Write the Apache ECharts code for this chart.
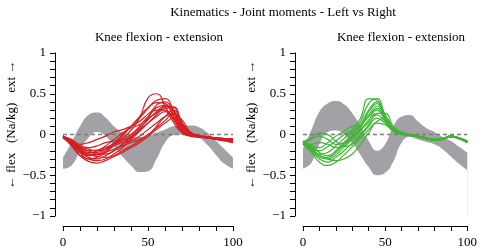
<!DOCTYPE html>
<html>
<head>
<meta charset="utf-8">
<script src="https://cdn.jsdelivr.net/npm/echarts@6/dist/echarts.min.js"></script>
<style>
  html, body { margin: 0; padding: 0; background: #fff; }
  #chart { width: 480px; height: 252px; }
</style>
</head>
<body>
<div id="chart"></div>
<script>
// % of gait cycle
const pct = [0, 5, 10, 15, 20, 25, 30, 35, 40, 45, 50, 55, 60, 65, 70, 75, 80, 85, 90, 95, 100];
const zeroLine = [[0, 0], [100, 0]];

// normative band, left side
const leftBandLow = [-0.42, -0.38, -0.2, -0.04, 0.03, -0.02, -0.14, -0.27, -0.38, -0.46, -0.45, -0.3, -0.1, -0.01, 0.0, -0.01, -0.04, -0.13, -0.25, -0.36, -0.42];
const leftBandHigh = [-0.28, -0.1, 0.1, 0.24, 0.27, 0.21, 0.1, 0.02, -0.02, -0.03, -0.02, 0.02, 0.06, 0.1, 0.11, 0.11, 0.09, 0.02, -0.08, -0.18, -0.28];

// normative band, right side
const rightBandLow = [-0.42, -0.35, -0.12, 0.03, 0.05, 0.0, -0.1, -0.25, -0.4, -0.5, -0.47, -0.33, -0.1, -0.03, -0.06, -0.09, -0.12, -0.18, -0.27, -0.36, -0.44];
const rightBandHigh = [-0.17, 0.05, 0.28, 0.38, 0.41, 0.37, 0.26, 0.1, -0.08, -0.2, -0.12, 0.1, 0.22, 0.24, 0.16, 0.08, 0.03, -0.03, -0.08, -0.15, -0.22];

// left trials
const leftTrials = [
  [-0.03, -0.08, -0.15, -0.18, -0.2, -0.18, -0.12, -0.05, 0.05, 0.2, 0.45, 0.5, 0.35, 0.15, 0.02, -0.02, -0.03, -0.04, -0.05, -0.05, -0.06],
  [-0.02, -0.1, -0.2, -0.25, -0.24, -0.2, -0.12, -0.02, 0.1, 0.22, 0.33, 0.39, 0.38, 0.25, 0.05, -0.01, -0.03, -0.04, -0.05, -0.06, -0.07],
  [-0.04, -0.12, -0.22, -0.28, -0.3, -0.26, -0.2, -0.12, -0.02, 0.08, 0.18, 0.28, 0.35, 0.3, 0.1, 0.0, -0.02, -0.03, -0.04, -0.05, -0.06],
  [-0.03, -0.14, -0.26, -0.33, -0.35, -0.32, -0.27, -0.22, -0.16, -0.1, -0.02, 0.1, 0.22, 0.3, 0.15, 0.02, -0.02, -0.04, -0.06, -0.08, -0.1],
  [-0.02, -0.09, -0.17, -0.2, -0.19, -0.16, -0.12, -0.08, -0.03, 0.05, 0.14, 0.22, 0.28, 0.2, 0.04, -0.01, -0.02, -0.03, -0.04, -0.05, -0.06],
  [-0.03, -0.06, -0.12, -0.1, -0.06, -0.02, 0.03, 0.06, 0.1, 0.16, 0.25, 0.33, 0.36, 0.22, 0.05, -0.01, -0.03, -0.04, -0.05, -0.06, -0.07],
  [-0.04, -0.11, -0.2, -0.24, -0.27, -0.28, -0.26, -0.2, -0.14, -0.08, -0.02, 0.06, 0.14, 0.2, 0.12, 0.02, -0.02, -0.04, -0.06, -0.07, -0.08],
  [-0.02, -0.08, -0.18, -0.22, -0.22, -0.18, -0.1, 0.0, 0.1, 0.2, 0.32, 0.42, 0.44, 0.3, 0.08, 0.0, -0.02, -0.03, -0.04, -0.05, -0.07],
  [-0.03, -0.13, -0.25, -0.3, -0.32, -0.3, -0.24, -0.16, -0.06, 0.04, 0.14, 0.24, 0.32, 0.33, 0.14, 0.01, -0.02, -0.03, -0.05, -0.06, -0.08],
  [-0.02, -0.07, -0.14, -0.16, -0.14, -0.1, -0.08, -0.06, 0.0, 0.1, 0.22, 0.3, 0.3, 0.18, 0.03, -0.02, -0.03, -0.04, -0.05, -0.05, -0.05],
  [-0.04, -0.12, -0.21, -0.26, -0.25, -0.22, -0.18, -0.14, -0.1, -0.06, 0.0, 0.08, 0.17, 0.25, 0.18, 0.03, -0.01, -0.03, -0.05, -0.07, -0.09],
  [-0.03, -0.1, -0.18, -0.23, -0.2, -0.14, -0.06, 0.02, 0.08, 0.12, 0.2, 0.26, 0.34, 0.34, 0.12, 0.0, -0.03, -0.04, -0.05, -0.06, -0.08],
  [-0.03, -0.1, -0.16, -0.2, -0.24, -0.24, -0.2, -0.12, -0.04, 0.06, 0.2, 0.36, 0.4, 0.28, 0.07, -0.01, -0.03, -0.04, -0.06, -0.07, -0.08],
  [-0.02, -0.09, -0.22, -0.3, -0.28, -0.22, -0.14, -0.1, -0.08, -0.02, 0.06, 0.14, 0.22, 0.26, 0.1, 0.0, -0.02, -0.04, -0.05, -0.06, -0.07]
];

// right trials
const rightTrials = [
  [-0.1, -0.15, -0.2, -0.15, -0.08, 0.0, 0.06, 0.2, 0.44, 0.42, 0.2, 0.06, 0.02, 0.0, -0.02, -0.04, -0.06, -0.05, -0.02, -0.04, -0.08],
  [-0.08, -0.18, -0.28, -0.3, -0.25, -0.15, -0.02, 0.12, 0.3, 0.4, 0.24, 0.08, 0.02, 0.0, -0.02, -0.05, -0.07, -0.05, -0.03, -0.05, -0.1],
  [-0.1, -0.06, -0.02, -0.06, -0.12, -0.1, -0.02, 0.06, 0.18, 0.3, 0.18, 0.05, 0.01, -0.01, -0.03, -0.05, -0.07, -0.06, -0.03, -0.05, -0.09],
  [-0.12, -0.22, -0.34, -0.38, -0.34, -0.25, -0.15, -0.05, 0.06, 0.16, 0.2, 0.08, 0.02, 0.0, -0.02, -0.05, -0.07, -0.05, -0.02, -0.05, -0.09],
  [-0.09, -0.16, -0.24, -0.22, -0.14, -0.05, 0.04, 0.1, 0.24, 0.35, 0.22, 0.07, 0.02, 0.0, -0.02, -0.04, -0.06, -0.05, -0.02, -0.04, -0.08],
  [-0.11, -0.18, -0.25, -0.3, -0.32, -0.3, -0.24, -0.12, 0.02, 0.14, 0.12, 0.04, 0.0, -0.01, -0.03, -0.05, -0.07, -0.06, -0.03, -0.05, -0.1],
  [-0.1, -0.12, -0.1, -0.12, -0.16, -0.14, -0.06, 0.05, 0.15, 0.24, 0.16, 0.05, 0.01, -0.01, -0.02, -0.04, -0.06, -0.05, -0.02, -0.04, -0.08],
  [-0.08, -0.14, -0.22, -0.26, -0.2, -0.1, 0.02, 0.16, 0.38, 0.44, 0.24, 0.07, 0.02, 0.0, -0.02, -0.05, -0.07, -0.05, -0.02, -0.05, -0.09],
  [-0.12, -0.2, -0.3, -0.34, -0.28, -0.2, -0.1, 0.0, 0.12, 0.26, 0.26, 0.1, 0.03, 0.0, -0.02, -0.05, -0.07, -0.06, -0.03, -0.05, -0.1],
  [-0.09, -0.04, 0.02, 0.0, -0.08, -0.15, -0.12, -0.02, 0.1, 0.2, 0.14, 0.04, 0.0, -0.01, -0.03, -0.05, -0.07, -0.06, -0.03, -0.05, -0.09],
  [-0.1, -0.17, -0.26, -0.28, -0.22, -0.12, -0.04, 0.08, 0.28, 0.38, 0.22, 0.06, 0.02, 0.0, -0.02, -0.04, -0.06, -0.05, -0.02, -0.04, -0.08],
  [-0.09, -0.14, -0.16, -0.1, -0.02, 0.04, 0.1, 0.12, 0.22, 0.32, 0.2, 0.06, 0.02, 0.0, -0.02, -0.05, -0.07, -0.05, -0.02, -0.05, -0.09]
];

const FONT = "Liberation Serif";
const fmtMinus = (v) => String(v).replace("-", "\u2212");

function panelSeries(idx, low, high, trials, color) {
  // band = gray area down to the axis start, then white area under the lower edge
  const list = [
    {
      type: "line",
      xAxisIndex: idx,
      yAxisIndex: idx,
      data: pct.map((x, i) => [x, high[i]]),
      smooth: true,
      symbol: "none",
      lineStyle: { width: 0, opacity: 0 },
      areaStyle: { color: "#a2a2a6", opacity: 1, origin: "start" },
      silent: true,
    },
    {
      type: "line",
      xAxisIndex: idx,
      yAxisIndex: idx,
      data: pct.map((x, i) => [x, low[i]]),
      smooth: true,
      symbol: "none",
      lineStyle: { width: 0, opacity: 0 },
      areaStyle: { color: "#ffffff", opacity: 1, origin: "start" },
      silent: true,
    },
    {
      type: "line",
      xAxisIndex: idx,
      yAxisIndex: idx,
      data: zeroLine,
      symbol: "none",
      lineStyle: { color: "#7c7c7c", width: 1.3, type: [4, 3] },
      silent: true,
    },
  ];
  trials.forEach((t) => {
    list.push({
      type: "line",
      xAxisIndex: idx,
      yAxisIndex: idx,
      data: pct.map((x, i) => [x, t[i]]),
      smooth: true,
      symbol: "none",
      lineStyle: { color: color, width: 1.2 },
      silent: true,
    });
  });
  return list;
}

function xAx(idx) {
  return {
    type: "value",
    gridIndex: idx,
    min: 0,
    max: 100,
    interval: 50,
    offset: 10,
    axisLine: { onZero: false, lineStyle: { color: "#000", width: 1 } },
    axisTick: { length: 5, lineStyle: { color: "#000" } },
    minorTick: { show: true, splitNumber: 5, length: 5, lineStyle: { color: "#000" } },
    splitLine: { show: false },
    axisLabel: { color: "#000", fontFamily: FONT, fontSize: 13, margin: 10 },
  };
}

function yAx(idx) {
  return {
    type: "value",
    gridIndex: idx,
    min: -1,
    max: 1,
    interval: 0.5,
    offset: 8,
    axisLine: { show: true, onZero: false, lineStyle: { color: "#000", width: 1 } },
    axisTick: { show: true, length: 5, lineStyle: { color: "#000" } },
    minorTick: { show: true, splitNumber: 5, length: 5, lineStyle: { color: "#000" } },
    splitLine: { show: false },
    axisLabel: { color: "#000", fontFamily: FONT, fontSize: 13, margin: 9, formatter: fmtMinus },
  };
}

const yName = "\u2190 flex   (Na/kg)   ext \u2192";

const option = {
  animation: false,
  backgroundColor: "#fff",
  title: [
    { text: "Kinematics - Joint moments - Left vs Right", left: 278, top: 1, textAlign: "center",
      textStyle: { fontFamily: FONT, fontSize: 13, fontWeight: "normal", color: "#000" } },
    { text: "Knee flexion - extension", left: 154, top: 26, textAlign: "center",
      textStyle: { fontFamily: FONT, fontSize: 13, fontWeight: "normal", color: "#000" } },
    { text: "Knee flexion - extension", left: 396, top: 26, textAlign: "center",
      textStyle: { fontFamily: FONT, fontSize: 13, fontWeight: "normal", color: "#000" } },
  ],
  graphic: [
    { type: "text", x: 12, y: 125, rotation: Math.PI / 2,
      style: { text: yName, fontFamily: FONT, fontSize: 13, fill: "#000", align: "center", verticalAlign: "middle" } },
    { type: "text", x: 252, y: 125, rotation: Math.PI / 2,
      style: { text: yName, fontFamily: FONT, fontSize: 13, fill: "#000", align: "center", verticalAlign: "middle" } },
  ],
  grid: [
    { left: 63, width: 170, top: 53, height: 163 },
    { left: 303, width: 170, top: 53, height: 163 },
  ],
  xAxis: [xAx(0), xAx(1)],
  yAxis: [yAx(0), yAx(1)],
  series: [
    ...panelSeries(0, leftBandLow, leftBandHigh, leftTrials, "#d51f23"),
    ...panelSeries(1, rightBandLow, rightBandHigh, rightTrials, "#3fb535"),
  ],
};

const chart = echarts.init(document.getElementById("chart"));
chart.setOption(option);
</script>
</body>
</html>
